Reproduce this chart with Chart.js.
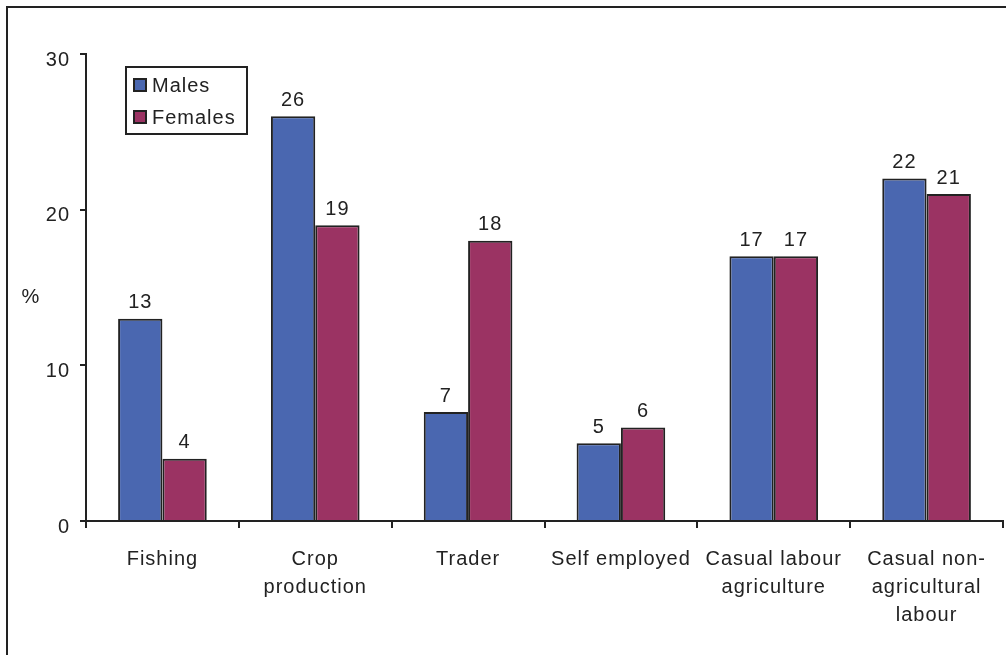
<!DOCTYPE html>
<html>
<head>
<meta charset="utf-8">
<script src="https://cdn.jsdelivr.net/npm/chart.js@4"></script>
<style>
  html, body { margin: 0; padding: 0; background: #fff; overflow: hidden; }
  #frame { position: absolute; left: 6px; top: 6px; width: 1010px; height: 660px; border: 2px solid #222; }
  #wrap { position: absolute; left: 0; top: 0; width: 1006px; height: 655px; }
</style>
</head>
<body>
<div id="frame"></div>
<div id="wrap"><canvas id="chart" width="1006" height="655"></canvas></div>
<script>
// data
const categories = ["Fishing", ["Crop", "production"], "Trader", "Self employed",
  ["Casual labour", "agriculture"], ["Casual non-", "agricultural", "labour"]];
const males = [13, 26, 7, 5, 17, 22];
const females = [4, 19, 18, 6, 17, 21];
const seriesNames = ["Males", "Females"];
const yTicks = [0, 10, 20, 30];

const FONT = "'Liberation Sans', Arial, sans-serif";
const INK = "#222";

// wider letter spacing like the original
const spacing = {
  id: "spacing",
  beforeDraw(chart) { chart.ctx.letterSpacing = "1px"; }
};

// numbers on top of the bars
const valueLabels = {
  id: "valueLabels",
  afterDatasetsDraw(chart) {
    const ctx = chart.ctx;
    ctx.save();
    ctx.font = "20px " + FONT;
    ctx.fillStyle = INK;
    ctx.textAlign = "center";
    ctx.textBaseline = "bottom";
    chart.data.datasets.forEach((ds, i) => {
      chart.getDatasetMeta(i).data.forEach((bar, j) => {
        ctx.fillText(ds.data[j], bar.x, bar.y - 6);
      });
    });
    ctx.restore();
  }
};

// boxed legend inside the plot + the "%" axis label
const extras = {
  id: "extras",
  afterDraw(chart) {
    const ctx = chart.ctx;
    ctx.save();
    ctx.font = "20px " + FONT;
    ctx.fillStyle = INK;
    ctx.textAlign = "center";
    ctx.textBaseline = "middle";
    ctx.fillText("%", 31, 297);

    ctx.fillStyle = "#fff";
    ctx.fillRect(126, 67, 121, 67);
    ctx.strokeStyle = INK;
    ctx.lineWidth = 2;
    ctx.strokeRect(126, 67, 121, 67);
    chart.data.datasets.forEach((ds, i) => {
      const cy = 85 + i * 32;
      ctx.fillStyle = ds.backgroundColor;
      ctx.fillRect(134, cy - 6, 12, 12);
      ctx.strokeRect(134, cy - 6, 12, 12);
      ctx.fillStyle = INK;
      ctx.textAlign = "left";
      ctx.fillText(ds.label, 152, cy + 1);
    });
    ctx.restore();
  }
};

new Chart(document.getElementById("chart"), {
  type: "bar",
  data: {
    labels: categories,
    datasets: [
      { label: seriesNames[0], data: males, backgroundColor: "#4a67b0", borderColor: INK, borderWidth: 2 },
      { label: seriesNames[1], data: females, backgroundColor: "#9b3363", borderColor: INK, borderWidth: 2 }
    ]
  },
  options: {
    responsive: false,
    animation: false,
    layout: { padding: { top: 54, right: 3, left: 0, bottom: 0 } },
    categoryPercentage: 0.58,
    barPercentage: 1,
    plugins: { legend: { display: false }, tooltip: { enabled: false } },
    scales: {
      x: {
        afterFit: s => { s.height = 134; },
        grid: { display: true, offset: true, drawOnChartArea: false, tickLength: 7, color: INK, lineWidth: 2 },
        border: { display: true, color: INK, width: 2 },
        ticks: { color: INK, font: { family: FONT, size: 20, lineHeight: 1.4 }, padding: 17, maxRotation: 0, autoSkip: false }
      },
      y: {
        min: 0, max: 30,
        afterFit: s => { s.width = 86; },
        afterBuildTicks: s => { s.ticks = yTicks.map(v => ({ value: v })); },
        grid: { display: true, drawOnChartArea: false, tickLength: 6, color: INK, lineWidth: 2 },
        border: { display: true, color: INK, width: 2 },
        ticks: { color: INK, font: { family: FONT, size: 20 }, padding: 10, labelOffset: 6 }
      }
    }
  },
  plugins: [spacing, valueLabels, extras]
});
</script>
</body>
</html>
